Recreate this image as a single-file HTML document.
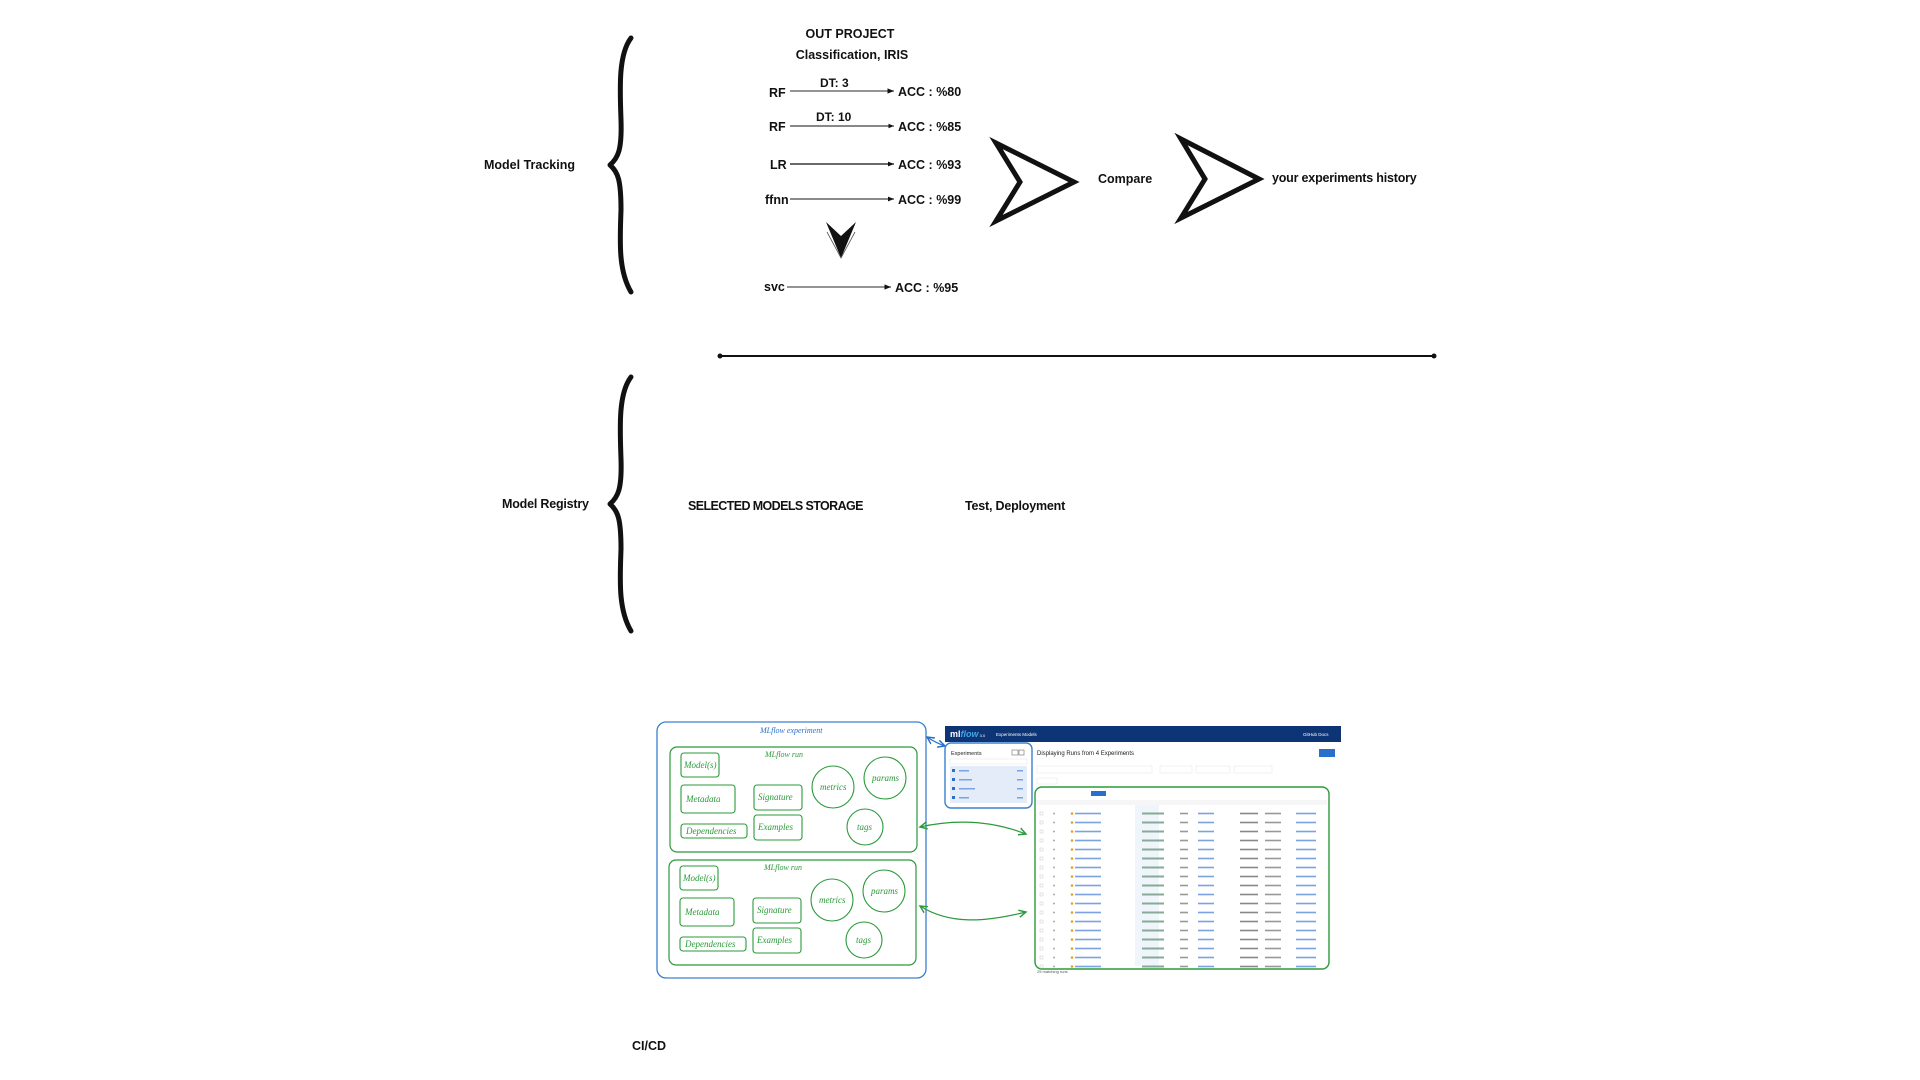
<!DOCTYPE html>
<html><head><meta charset="utf-8"><style>
html,body{margin:0;padding:0;background:#fff;}
svg{display:block;}
.t{font-family:"Liberation Sans",sans-serif;font-weight:bold;font-size:12.5px;fill:#111;}
.h{font-family:"Liberation Serif",serif;font-style:italic;fill:#2a9a3a;font-size:9px;}
.s{font-family:"Liberation Sans",sans-serif;font-size:4px;fill:#555;}
</style></head><body>
<svg width="1920" height="1080" viewBox="0 0 1920 1080" xmlns="http://www.w3.org/2000/svg">
<defs>
<marker id="ah" markerWidth="6" markerHeight="6" refX="5" refY="3" orient="auto"><path d="M0,1 L5,3 L0,5 Z" fill="#111"/></marker>
<marker id="ga" markerWidth="8" markerHeight="8" refX="6" refY="4" orient="auto-start-reverse"><path d="M0,1 L6,4 L0,7" fill="none" stroke="#2a9a3a" stroke-width="1.2"/></marker>
<marker id="ba" markerWidth="8" markerHeight="8" refX="6" refY="4" orient="auto-start-reverse"><path d="M0,1 L6,4 L0,7" fill="none" stroke="#2a6fc9" stroke-width="1.2"/></marker>
<g id="row">
<rect x="0" y="0" width="3" height="3" fill="none" stroke="#bbb" stroke-width="0.4"/>
<circle cx="14" cy="1.5" r="1" fill="#aaa"/>
<circle cx="32" cy="1.5" r="1.3" fill="#e6a020"/>
<rect x="35" y="0.7" width="26" height="1.6" fill="#7aa3e0"/>
<rect x="102" y="0.5" width="22" height="2" fill="#8a9"/>
<rect x="140" y="0.7" width="8" height="1.6" fill="#999"/>
<rect x="158" y="0.7" width="16" height="1.6" fill="#7aa3e0"/>
<rect x="200" y="0.7" width="18" height="1.6" fill="#888"/>
<rect x="225" y="0.7" width="16" height="1.6" fill="#999"/>
<rect x="256" y="0.7" width="20" height="1.6" fill="#7aa3e0"/>
</g>
</defs>

<text class="t" x="484" y="169">Model Tracking</text>
<path d="M631,38 C618,55 620,90 621,120 C622,150 618,158 610,165 C618,172 621,180 621,210 C620,240 618,270 631,292" fill="none" stroke="#111" stroke-width="5" stroke-linecap="round" stroke-linejoin="round"/>

<text class="t" x="850" y="38" text-anchor="middle">OUT PROJECT</text>
<text class="t" x="852" y="59" text-anchor="middle">Classification, IRIS</text>

<text class="t" x="769" y="97">RF</text>
<text class="t" x="820" y="87" style="font-size:12px">DT: 3</text>
<line x1="790" y1="91" x2="894" y2="91" stroke="#555" stroke-width="1.3" marker-end="url(#ah)"/>
<text class="t" x="898" y="96">ACC : %80</text>

<text class="t" x="769" y="131">RF</text>
<text class="t" x="816" y="121" style="font-size:12px">DT: 10</text>
<line x1="790" y1="126" x2="894" y2="126" stroke="#111" stroke-width="1.1" marker-end="url(#ah)"/>
<text class="t" x="898" y="131">ACC : %85</text>

<text class="t" x="770" y="169">LR</text>
<line x1="790" y1="164" x2="894" y2="164" stroke="#111" stroke-width="1.2" marker-end="url(#ah)"/>
<text class="t" x="898" y="169">ACC : %93</text>

<text class="t" x="765" y="204">ffnn</text>
<line x1="790" y1="199" x2="894" y2="199" stroke="#444" stroke-width="1.2" marker-end="url(#ah)"/>
<text class="t" x="898" y="204">ACC : %99</text>

<path d="M826,222 L841,236 L856,222 L841,258 Z" fill="#111"/>
<path d="M827,232 L841,258 L855,232" fill="none" stroke="#555" stroke-width="0.8"/>

<text class="t" x="764" y="291">svc</text>
<line x1="787" y1="287" x2="891" y2="287" stroke="#555" stroke-width="1.3" marker-end="url(#ah)"/>
<text class="t" x="895" y="292">ACC : %95</text>

<path d="M996,143 L1074,182 L996,221 L1020,182 Z" fill="none" stroke="#111" stroke-width="5" stroke-linejoin="miter"/>
<text class="t" x="1098" y="183">Compare</text>
<path d="M1181,139 L1259,179 L1181,218 L1205,179 Z" fill="none" stroke="#111" stroke-width="5" stroke-linejoin="miter"/>
<text class="t" x="1272" y="182" style="letter-spacing:-0.2px">your experiments history</text>

<line x1="720" y1="356" x2="1434" y2="356" stroke="#111" stroke-width="2"/>
<circle cx="720" cy="356" r="2.5" fill="#111"/>
<circle cx="1434" cy="356" r="2.5" fill="#111"/>

<path d="M631,377 C618,394 620,429 621,459 C622,489 618,497 610,504 C618,511 621,519 621,549 C620,579 618,609 631,631" fill="none" stroke="#111" stroke-width="5" stroke-linecap="round" stroke-linejoin="round"/>
<text class="t" x="502" y="508" style="letter-spacing:-0.2px">Model Registry</text>
<text class="t" x="688" y="510" style="letter-spacing:-0.6px">SELECTED MODELS STORAGE</text>
<text class="t" x="965" y="510" style="letter-spacing:-0.2px">Test, Deployment</text>

<text class="t" x="632" y="1050">CI/CD</text>

<!-- MLflow diagram left -->
<rect x="657" y="722" width="269" height="256" rx="9" fill="none" stroke="#3a80d0" stroke-width="1.3"/>
<text x="760" y="733" style="font-family:'Liberation Serif',serif;font-style:italic;font-size:8px;fill:#2a6fc9">MLflow experiment</text>
<g id="run1">
<rect x="670" y="747" width="247" height="105" rx="7" fill="none" stroke="#2a9a3a" stroke-width="1.2"/>
<text class="h" x="765" y="757" style="font-size:8px">MLflow run</text>
<rect x="681" y="753" width="38" height="24" rx="3" fill="none" stroke="#2a9a3a" stroke-width="1.1"/>
<text class="h" x="684" y="768">Model(s)</text>
<rect x="681" y="785" width="54" height="28" rx="3" fill="none" stroke="#2a9a3a" stroke-width="1.1"/>
<text class="h" x="686" y="802">Metadata</text>
<rect x="681" y="824" width="66" height="14" rx="3" fill="none" stroke="#2a9a3a" stroke-width="1.1"/>
<text class="h" x="686" y="834">Dependencies</text>
<rect x="754" y="785" width="48" height="25" rx="3" fill="none" stroke="#2a9a3a" stroke-width="1.1"/>
<text class="h" x="758" y="800">Signature</text>
<rect x="754" y="815" width="48" height="25" rx="3" fill="none" stroke="#2a9a3a" stroke-width="1.1"/>
<text class="h" x="758" y="830">Examples</text>
<circle cx="833" cy="787" r="21" fill="none" stroke="#2a9a3a" stroke-width="1.1"/>
<text class="h" x="820" y="790">metrics</text>
<circle cx="885" cy="778" r="21" fill="none" stroke="#2a9a3a" stroke-width="1.1"/>
<text class="h" x="872" y="781">params</text>
<circle cx="865" cy="827" r="18" fill="none" stroke="#2a9a3a" stroke-width="1.1"/>
<text class="h" x="857" y="830">tags</text>
</g>
<use href="#run1" transform="translate(-1,113)"/>

<path d="M927,737 C933,741 939,744 945,746" fill="none" stroke="#2a6fc9" stroke-width="1.2" marker-start="url(#ba)" marker-end="url(#ba)"/>
<path d="M920,827 C960,818 995,822 1026,834" fill="none" stroke="#2a9a3a" stroke-width="1.2" marker-start="url(#ga)" marker-end="url(#ga)"/>
<path d="M920,906 C950,925 985,922 1026,912" fill="none" stroke="#2a9a3a" stroke-width="1.2" marker-start="url(#ga)" marker-end="url(#ga)"/>

<!-- MLflow screenshot right -->
<rect x="945" y="726" width="396" height="16" fill="#0d3475"/>
<text x="950" y="737" style="font-family:'Liberation Sans',sans-serif;font-size:9px;fill:#fff;font-weight:bold">ml<tspan fill="#43a6e8" font-style="italic">flow</tspan><tspan font-size="4" font-weight="normal"> 3.0</tspan></text>
<text x="996" y="736" class="s" style="fill:#fff;font-size:4.5px">Experiments   Models</text>
<text x="1303" y="736" class="s" style="fill:#fff;font-size:4.5px">GitHub   Docs</text>
<rect x="945" y="743" width="87" height="65" rx="6" fill="none" stroke="#3a80d0" stroke-width="1.4"/>
<text x="951" y="755" class="s" style="font-size:5.5px;fill:#222">Experiments</text>
<rect x="1012" y="750" width="6" height="5" fill="none" stroke="#555" stroke-width="0.5"/><rect x="1019" y="750" width="5" height="5" fill="none" stroke="#555" stroke-width="0.5"/>
<rect x="950" y="759" width="77" height="5" fill="none" stroke="#ddd" stroke-width="0.4"/>
<rect x="950" y="766" width="77" height="37" fill="#e3ecf8"/>
<g fill="#2a6fc9">
<rect x="952" y="769" width="3" height="3"/><rect x="959" y="770" width="10" height="1.5" fill="#7aa3e0"/><rect x="1017" y="770" width="6" height="1.5" fill="#7aa3e0"/>
<rect x="952" y="778" width="3" height="3"/><rect x="959" y="779" width="13" height="1.5" fill="#7aa3e0"/><rect x="1017" y="779" width="6" height="1.5" fill="#7aa3e0"/>
<rect x="952" y="787" width="3" height="3"/><rect x="959" y="788" width="16" height="1.5" fill="#7aa3e0"/><rect x="1017" y="788" width="6" height="1.5" fill="#7aa3e0"/>
<rect x="952" y="796" width="3" height="3"/><rect x="959" y="797" width="10" height="1.5" fill="#7aa3e0"/><rect x="1017" y="797" width="6" height="1.5" fill="#7aa3e0"/>
</g>
<text x="1037" y="755" class="s" style="font-size:6px;fill:#222">Displaying Runs from 4 Experiments</text>
<rect x="1319" y="749" width="16" height="8" fill="#2a6fc9"/>
<rect x="1037" y="766" width="115" height="7" fill="none" stroke="#ddd" stroke-width="0.4"/>
<rect x="1160" y="766" width="32" height="7" fill="none" stroke="#ddd" stroke-width="0.4"/>
<rect x="1196" y="766" width="34" height="7" fill="none" stroke="#ddd" stroke-width="0.4"/>
<rect x="1234" y="766" width="38" height="7" fill="none" stroke="#ddd" stroke-width="0.4"/>
<rect x="1037" y="778" width="20" height="6" fill="none" stroke="#ddd" stroke-width="0.4"/>
<rect x="1091" y="791" width="15" height="5" fill="#2a6fc9"/>
<rect x="1035" y="787" width="294" height="182" rx="7" fill="none" stroke="#2a9a3a" stroke-width="1.4"/>
<rect x="1135" y="800" width="24" height="166" fill="#f0f5fb"/>
<rect x="1037" y="800" width="290" height="5" fill="#f6f6f6"/>
<g transform="translate(1040,812)">
<use href="#row" y="0"/><use href="#row" y="9"/><use href="#row" y="18"/><use href="#row" y="27"/>
<use href="#row" y="36"/><use href="#row" y="45"/><use href="#row" y="54"/><use href="#row" y="63"/>
<use href="#row" y="72"/><use href="#row" y="81"/><use href="#row" y="90"/><use href="#row" y="99"/>
<use href="#row" y="108"/><use href="#row" y="117"/><use href="#row" y="126"/><use href="#row" y="135"/>
<use href="#row" y="144"/><use href="#row" y="153"/>
</g>
<text x="1037" y="973" class="s">25 matching runs</text>
</svg>
</body></html>
